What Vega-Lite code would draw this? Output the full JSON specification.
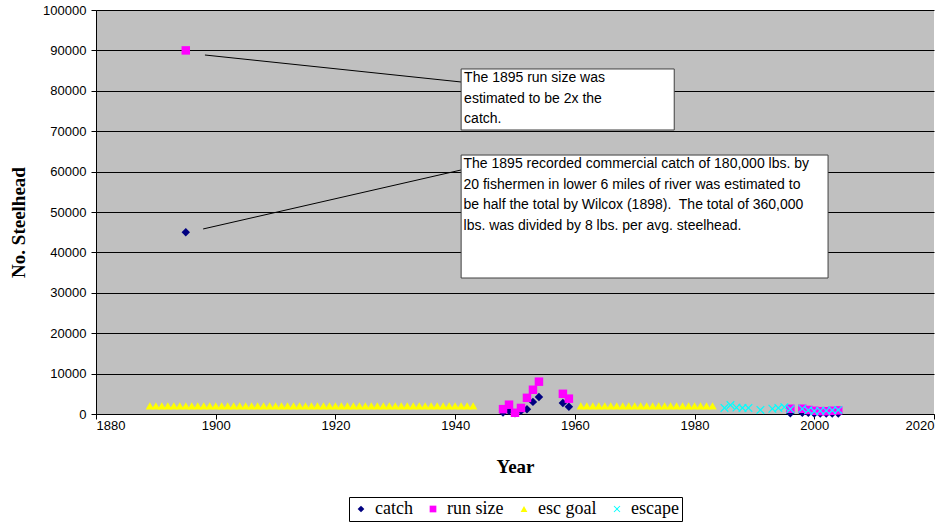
{
  "$schema": "https://vega.github.io/schema/vega-lite/v6.json",
  "width": 838,
  "height": 404,
  "autosize": {"type": "none"},
  "padding": {"left": 96, "top": 10, "right": 17, "bottom": 111},
  "background": "white",
  "config": {
    "view": {"fill": "#C0C0C0", "stroke": null},
    "font": "Liberation Sans"
  },
  "datasets": {
    "counts": [
      {"year": 1895, "value": 45000, "series": "catch"},
      {"year": 1948, "value": 400, "series": "catch"},
      {"year": 1949, "value": 800, "series": "catch"},
      {"year": 1950, "value": 200, "series": "catch"},
      {"year": 1951, "value": 800, "series": "catch"},
      {"year": 1952, "value": 1200, "series": "catch"},
      {"year": 1953, "value": 3000, "series": "catch"},
      {"year": 1954, "value": 4200, "series": "catch"},
      {"year": 1958, "value": 2700, "series": "catch"},
      {"year": 1959, "value": 1800, "series": "catch"},
      {"year": 1996, "value": 200, "series": "catch"},
      {"year": 1998, "value": 300, "series": "catch"},
      {"year": 1999, "value": 300, "series": "catch"},
      {"year": 2000, "value": 100, "series": "catch"},
      {"year": 2001, "value": 100, "series": "catch"},
      {"year": 2002, "value": 100, "series": "catch"},
      {"year": 2003, "value": 100, "series": "catch"},
      {"year": 2004, "value": 100, "series": "catch"},
      {"year": 1895, "value": 90000, "series": "run size"},
      {"year": 1948, "value": 1200, "series": "run size"},
      {"year": 1949, "value": 2300, "series": "run size"},
      {"year": 1950, "value": 300, "series": "run size"},
      {"year": 1951, "value": 1500, "series": "run size"},
      {"year": 1952, "value": 4000, "series": "run size"},
      {"year": 1953, "value": 6000, "series": "run size"},
      {"year": 1954, "value": 8000, "series": "run size"},
      {"year": 1958, "value": 5000, "series": "run size"},
      {"year": 1959, "value": 3800, "series": "run size"},
      {"year": 1996, "value": 1300, "series": "run size"},
      {"year": 1998, "value": 1300, "series": "run size"},
      {"year": 1999, "value": 1000, "series": "run size"},
      {"year": 2000, "value": 800, "series": "run size"},
      {"year": 2001, "value": 700, "series": "run size"},
      {"year": 2002, "value": 700, "series": "run size"},
      {"year": 2003, "value": 800, "series": "run size"},
      {"year": 2004, "value": 900, "series": "run size"},
      {"year": 1889, "value": 2000, "series": "esc goal"},
      {"year": 1890, "value": 2000, "series": "esc goal"},
      {"year": 1891, "value": 2000, "series": "esc goal"},
      {"year": 1892, "value": 2000, "series": "esc goal"},
      {"year": 1893, "value": 2000, "series": "esc goal"},
      {"year": 1894, "value": 2000, "series": "esc goal"},
      {"year": 1895, "value": 2000, "series": "esc goal"},
      {"year": 1896, "value": 2000, "series": "esc goal"},
      {"year": 1897, "value": 2000, "series": "esc goal"},
      {"year": 1898, "value": 2000, "series": "esc goal"},
      {"year": 1899, "value": 2000, "series": "esc goal"},
      {"year": 1900, "value": 2000, "series": "esc goal"},
      {"year": 1901, "value": 2000, "series": "esc goal"},
      {"year": 1902, "value": 2000, "series": "esc goal"},
      {"year": 1903, "value": 2000, "series": "esc goal"},
      {"year": 1904, "value": 2000, "series": "esc goal"},
      {"year": 1905, "value": 2000, "series": "esc goal"},
      {"year": 1906, "value": 2000, "series": "esc goal"},
      {"year": 1907, "value": 2000, "series": "esc goal"},
      {"year": 1908, "value": 2000, "series": "esc goal"},
      {"year": 1909, "value": 2000, "series": "esc goal"},
      {"year": 1910, "value": 2000, "series": "esc goal"},
      {"year": 1911, "value": 2000, "series": "esc goal"},
      {"year": 1912, "value": 2000, "series": "esc goal"},
      {"year": 1913, "value": 2000, "series": "esc goal"},
      {"year": 1914, "value": 2000, "series": "esc goal"},
      {"year": 1915, "value": 2000, "series": "esc goal"},
      {"year": 1916, "value": 2000, "series": "esc goal"},
      {"year": 1917, "value": 2000, "series": "esc goal"},
      {"year": 1918, "value": 2000, "series": "esc goal"},
      {"year": 1919, "value": 2000, "series": "esc goal"},
      {"year": 1920, "value": 2000, "series": "esc goal"},
      {"year": 1921, "value": 2000, "series": "esc goal"},
      {"year": 1922, "value": 2000, "series": "esc goal"},
      {"year": 1923, "value": 2000, "series": "esc goal"},
      {"year": 1924, "value": 2000, "series": "esc goal"},
      {"year": 1925, "value": 2000, "series": "esc goal"},
      {"year": 1926, "value": 2000, "series": "esc goal"},
      {"year": 1927, "value": 2000, "series": "esc goal"},
      {"year": 1928, "value": 2000, "series": "esc goal"},
      {"year": 1929, "value": 2000, "series": "esc goal"},
      {"year": 1930, "value": 2000, "series": "esc goal"},
      {"year": 1931, "value": 2000, "series": "esc goal"},
      {"year": 1932, "value": 2000, "series": "esc goal"},
      {"year": 1933, "value": 2000, "series": "esc goal"},
      {"year": 1934, "value": 2000, "series": "esc goal"},
      {"year": 1935, "value": 2000, "series": "esc goal"},
      {"year": 1936, "value": 2000, "series": "esc goal"},
      {"year": 1937, "value": 2000, "series": "esc goal"},
      {"year": 1938, "value": 2000, "series": "esc goal"},
      {"year": 1939, "value": 2000, "series": "esc goal"},
      {"year": 1940, "value": 2000, "series": "esc goal"},
      {"year": 1941, "value": 2000, "series": "esc goal"},
      {"year": 1942, "value": 2000, "series": "esc goal"},
      {"year": 1943, "value": 2000, "series": "esc goal"},
      {"year": 1961, "value": 2000, "series": "esc goal"},
      {"year": 1962, "value": 2000, "series": "esc goal"},
      {"year": 1963, "value": 2000, "series": "esc goal"},
      {"year": 1964, "value": 2000, "series": "esc goal"},
      {"year": 1965, "value": 2000, "series": "esc goal"},
      {"year": 1966, "value": 2000, "series": "esc goal"},
      {"year": 1967, "value": 2000, "series": "esc goal"},
      {"year": 1968, "value": 2000, "series": "esc goal"},
      {"year": 1969, "value": 2000, "series": "esc goal"},
      {"year": 1970, "value": 2000, "series": "esc goal"},
      {"year": 1971, "value": 2000, "series": "esc goal"},
      {"year": 1972, "value": 2000, "series": "esc goal"},
      {"year": 1973, "value": 2000, "series": "esc goal"},
      {"year": 1974, "value": 2000, "series": "esc goal"},
      {"year": 1975, "value": 2000, "series": "esc goal"},
      {"year": 1976, "value": 2000, "series": "esc goal"},
      {"year": 1977, "value": 2000, "series": "esc goal"},
      {"year": 1978, "value": 2000, "series": "esc goal"},
      {"year": 1979, "value": 2000, "series": "esc goal"},
      {"year": 1980, "value": 2000, "series": "esc goal"},
      {"year": 1981, "value": 2000, "series": "esc goal"},
      {"year": 1982, "value": 2000, "series": "esc goal"},
      {"year": 1983, "value": 2000, "series": "esc goal"},
      {"year": 1985, "value": 1500, "series": "escape"},
      {"year": 1986, "value": 2200, "series": "escape"},
      {"year": 1987, "value": 1600, "series": "escape"},
      {"year": 1988, "value": 1500, "series": "escape"},
      {"year": 1989, "value": 1500, "series": "escape"},
      {"year": 1991, "value": 1000, "series": "escape"},
      {"year": 1993, "value": 1300, "series": "escape"},
      {"year": 1994, "value": 1500, "series": "escape"},
      {"year": 1995, "value": 1700, "series": "escape"},
      {"year": 1996, "value": 1200, "series": "escape"},
      {"year": 1998, "value": 1300, "series": "escape"},
      {"year": 1999, "value": 900, "series": "escape"},
      {"year": 2000, "value": 700, "series": "escape"},
      {"year": 2001, "value": 800, "series": "escape"},
      {"year": 2002, "value": 800, "series": "escape"},
      {"year": 2003, "value": 900, "series": "escape"},
      {"year": 2004, "value": 1000, "series": "escape"}
    ],
    "leaders": [
      {"year": 1898.2, "value": 88860, "year2": 1941.0, "value2": 82180},
      {"year": 1897.9, "value": 45800, "year2": 1941.0, "value2": 60400}
    ],
    "boxes": [
      {"year": 1941.0, "value": 85400, "year2": 1976.6, "value2": 70300},
      {"year": 1941.0, "value": 64100, "year2": 2002.3, "value2": 33660}
    ],
    "notes": [
      {"year": 1941.5, "value": 84900, "note": "The 1895 run size was\nestimated to be 2x the\ncatch."},
      {"year": 1941.4, "value": 63600, "note": "The 1895 recorded commercial catch of 180,000 lbs. by\n20 fishermen in lower 6 miles of river was estimated to\nbe half the total by Wilcox (1898).\u00a0 The total of 360,000\nlbs. was divided by 8 lbs. per avg. steelhead."}
    ]
  },
  "layer": [
    {
      "data": {"name": "counts"},
      "mark": {"type": "point", "filled": true, "opacity": 1, "size": 72},
      "encoding": {
        "x": {
          "field": "year",
          "type": "quantitative",
          "scale": {"domain": [1880, 2020], "nice": false, "zero": false},
          "axis": {
            "title": "Year",
            "values": [1880, 1900, 1920, 1940, 1960, 1980, 2000, 2020],
            "format": "d",
            "grid": false,
            "domainColor": "black",
            "tickColor": "black",
            "tickSize": 5,
            "labelPadding": 0,
            "labelFont": "Liberation Sans",
            "labelFontSize": 13,
            "labelColor": "black",
            "titleFont": "Liberation Serif",
            "titleFontSize": 19,
            "titleFontWeight": "bold",
            "titleColor": "black",
            "titleX": 419,
            "titleY": 52,
            "titleBaseline": "middle"
          }
        },
        "y": {
          "field": "value",
          "type": "quantitative",
          "scale": {"domain": [0, 100000], "nice": false},
          "axis": {
            "title": "No. Steelhead",
            "values": [0, 10000, 20000, 30000, 40000, 50000, 60000, 70000, 80000, 90000, 100000],
            "format": "d",
            "grid": true,
            "gridColor": "black",
            "gridOpacity": 1,
            "gridWidth": 1,
            "domainColor": "black",
            "tickColor": "black",
            "tickSize": 5,
            "labelPadding": 5,
            "labelFont": "Liberation Sans",
            "labelFontSize": 13,
            "labelColor": "black",
            "titleFont": "Liberation Serif",
            "titleFontSize": 19,
            "titleFontWeight": "bold",
            "titleColor": "black",
            "titleX": -78,
            "titleY": 212,
            "titleAngle": -90,
            "titleAlign": "center",
            "titleBaseline": "middle"
          }
        },
        "color": {
          "field": "series",
          "type": "nominal",
          "scale": {
            "domain": ["catch", "run size", "esc goal", "escape"],
            "range": ["#000080", "#FF00FF", "#FFFF00", "#00FFFF"]
          },
          "legend": {
            "title": null,
            "orient": "none",
            "direction": "horizontal",
            "legendX": 253,
            "legendY": 487,
            "fillColor": "white",
            "strokeColor": "black",
            "padding": 3,
            "labelFont": "Liberation Serif",
            "labelFontSize": 18,
            "labelColor": "black",
            "symbolSize": 45,
            "symbolStrokeWidth": 0,
            "symbolOpacity": 1,
            "columnPadding": 11,
            "labelOffset": 5
          }
        },
        "shape": {
          "field": "series",
          "type": "nominal",
          "scale": {
            "domain": ["catch", "run size", "esc goal", "escape"],
            "range": [
              "diamond",
              "square",
              "triangle-up",
              "M-1,-0.8L-0.8,-1L0,-0.2L0.8,-1L1,-0.8L0.2,0L1,0.8L0.8,1L0,0.2L-0.8,1L-1,0.8L-0.2,0Z"
            ]
          },
          "legend": null
        }
      }
    },
    {
      "data": {"name": "leaders"},
      "mark": {"type": "rule", "color": "black", "strokeWidth": 1},
      "encoding": {
        "x": {"field": "year", "type": "quantitative"},
        "x2": {"field": "year2"},
        "y": {"field": "value", "type": "quantitative"},
        "y2": {"field": "value2"}
      }
    },
    {
      "data": {"name": "boxes"},
      "mark": {"type": "rect", "fill": "white", "stroke": "#404040", "strokeWidth": 1},
      "encoding": {
        "x": {"field": "year", "type": "quantitative"},
        "x2": {"field": "year2"},
        "y": {"field": "value", "type": "quantitative"},
        "y2": {"field": "value2"}
      }
    },
    {
      "data": {"name": "notes"},
      "mark": {
        "type": "text",
        "align": "left",
        "baseline": "top",
        "lineBreak": "\n",
        "lineHeight": 20.5,
        "font": "Liberation Sans",
        "fontSize": 14,
        "color": "black"
      },
      "encoding": {
        "x": {"field": "year", "type": "quantitative"},
        "y": {"field": "value", "type": "quantitative"},
        "text": {"field": "note"}
      }
    }
  ]
}
